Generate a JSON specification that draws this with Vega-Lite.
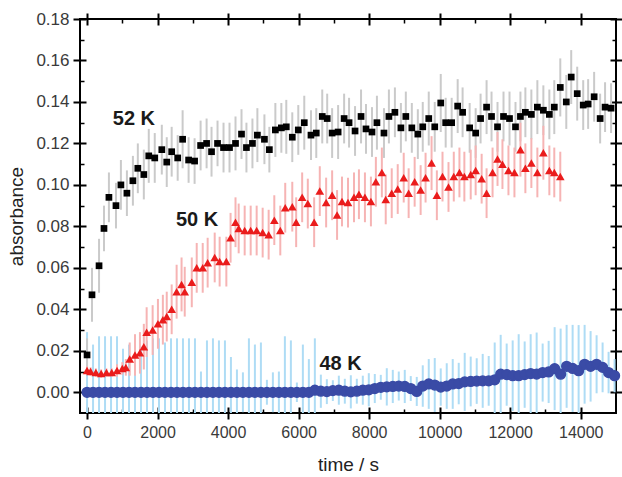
{
"$schema": "https://vega.github.io/schema/vega-lite/v6.json",
"width": 536, "height": 394,
"autosize": "none",
"padding": {"left": 80, "top": 19, "right": 6, "bottom": 64},
"background": "white",
"config": {"view": {"stroke": "#000", "strokeWidth": 2}, "font": "Liberation Sans", "axis": {"domain": false, "grid": false, "labelFont": "Liberation Sans", "titleFont": "Liberation Sans"}},
"datasets": {
"k52": [{"t":0,"y":0.018,"e":0.008},{"t":140,"y":0.047,"e":0.013},{"t":340,"y":0.061,"e":0.013},{"t":480,"y":0.079,"e":0.011},{"t":620,"y":0.094,"e":0.012},{"t":820,"y":0.090,"e":0.011},{"t":960,"y":0.100,"e":0.012},{"t":1130,"y":0.096,"e":0.011},{"t":1300,"y":0.102,"e":0.012},{"t":1440,"y":0.108,"e":0.012},{"t":1610,"y":0.105,"e":0.012},{"t":1750,"y":0.114,"e":0.013},{"t":1920,"y":0.113,"e":0.012},{"t":2120,"y":0.117,"e":0.012},{"t":2260,"y":0.111,"e":0.012},{"t":2400,"y":0.116,"e":0.012},{"t":2570,"y":0.113,"e":0.011},{"t":2710,"y":0.122,"e":0.014},{"t":2880,"y":0.112,"e":0.011},{"t":3050,"y":0.1115,"e":0.011},{"t":3220,"y":0.119,"e":0.012},{"t":3390,"y":0.120,"e":0.012},{"t":3530,"y":0.116,"e":0.012},{"t":3700,"y":0.120,"e":0.011},{"t":3870,"y":0.118,"e":0.012},{"t":4040,"y":0.118,"e":0.012},{"t":4210,"y":0.120,"e":0.013},{"t":4380,"y":0.1245,"e":0.012},{"t":4520,"y":0.118,"e":0.012},{"t":4690,"y":0.120,"e":0.012},{"t":4830,"y":0.124,"e":0.013},{"t":5030,"y":0.122,"e":0.012},{"t":5170,"y":0.117,"e":0.011},{"t":5340,"y":0.1265,"e":0.013},{"t":5510,"y":0.1275,"e":0.012},{"t":5650,"y":0.128,"e":0.013},{"t":5820,"y":0.123,"e":0.012},{"t":5990,"y":0.1265,"e":0.012},{"t":6160,"y":0.130,"e":0.013},{"t":6350,"y":0.124,"e":0.012},{"t":6500,"y":0.125,"e":0.012},{"t":6670,"y":0.133,"e":0.013},{"t":6810,"y":0.132,"e":0.012},{"t":6950,"y":0.125,"e":0.012},{"t":7120,"y":0.1255,"e":0.013},{"t":7290,"y":0.132,"e":0.012},{"t":7430,"y":0.130,"e":0.012},{"t":7600,"y":0.126,"e":0.012},{"t":7770,"y":0.133,"e":0.013},{"t":7910,"y":0.127,"e":0.012},{"t":8080,"y":0.1255,"e":0.012},{"t":8220,"y":0.130,"e":0.013},{"t":8420,"y":0.125,"e":0.012},{"t":8560,"y":0.133,"e":0.013},{"t":8730,"y":0.135,"e":0.012},{"t":8900,"y":0.1275,"e":0.012},{"t":9040,"y":0.133,"e":0.012},{"t":9210,"y":0.1275,"e":0.012},{"t":9380,"y":0.1245,"e":0.012},{"t":9520,"y":0.128,"e":0.012},{"t":9690,"y":0.132,"e":0.013},{"t":9860,"y":0.128,"e":0.012},{"t":10030,"y":0.1395,"e":0.014},{"t":10170,"y":0.130,"e":0.012},{"t":10340,"y":0.130,"e":0.012},{"t":10510,"y":0.138,"e":0.013},{"t":10650,"y":0.135,"e":0.012},{"t":10850,"y":0.1275,"e":0.012},{"t":11020,"y":0.125,"e":0.012},{"t":11160,"y":0.132,"e":0.012},{"t":11330,"y":0.1375,"e":0.013},{"t":11470,"y":0.133,"e":0.012},{"t":11640,"y":0.128,"e":0.012},{"t":11810,"y":0.133,"e":0.012},{"t":11980,"y":0.132,"e":0.013},{"t":12150,"y":0.128,"e":0.012},{"t":12290,"y":0.133,"e":0.012},{"t":12430,"y":0.135,"e":0.012},{"t":12600,"y":0.134,"e":0.012},{"t":12770,"y":0.1375,"e":0.013},{"t":12940,"y":0.136,"e":0.012},{"t":13110,"y":0.134,"e":0.012},{"t":13250,"y":0.1375,"e":0.013},{"t":13420,"y":0.147,"e":0.014},{"t":13590,"y":0.140,"e":0.013},{"t":13730,"y":0.152,"e":0.013},{"t":13900,"y":0.144,"e":0.013},{"t":14070,"y":0.1385,"e":0.012},{"t":14210,"y":0.139,"e":0.012},{"t":14380,"y":0.1425,"e":0.012},{"t":14550,"y":0.132,"e":0.012},{"t":14690,"y":0.1375,"e":0.012},{"t":14860,"y":0.137,"e":0.012}],
"k50": [{"t":0,"y":0.0105,"e":0.002},{"t":100,"y":0.0100,"e":0.002},{"t":250,"y":0.0095,"e":0.002},{"t":400,"y":0.0090,"e":0.002},{"t":550,"y":0.0095,"e":0.002},{"t":700,"y":0.0095,"e":0.002},{"t":850,"y":0.0105,"e":0.003},{"t":1000,"y":0.0115,"e":0.003},{"t":1100,"y":0.012,"e":0.004},{"t":1210,"y":0.016,"e":0.008},{"t":1360,"y":0.018,"e":0.010},{"t":1500,"y":0.019,"e":0.010},{"t":1610,"y":0.022,"e":0.011},{"t":1690,"y":0.029,"e":0.012},{"t":1860,"y":0.030,"e":0.012},{"t":2010,"y":0.033,"e":0.012},{"t":2150,"y":0.035,"e":0.012},{"t":2260,"y":0.0365,"e":0.012},{"t":2400,"y":0.040,"e":0.012},{"t":2540,"y":0.0485,"e":0.013},{"t":2680,"y":0.052,"e":0.013},{"t":2770,"y":0.0485,"e":0.012},{"t":2970,"y":0.053,"e":0.012},{"t":3110,"y":0.060,"e":0.012},{"t":3280,"y":0.060,"e":0.012},{"t":3420,"y":0.0625,"e":0.012},{"t":3620,"y":0.065,"e":0.012},{"t":3760,"y":0.063,"e":0.012},{"t":3950,"y":0.063,"e":0.012},{"t":4070,"y":0.0745,"e":0.012},{"t":4210,"y":0.082,"e":0.012},{"t":4300,"y":0.079,"e":0.012},{"t":4470,"y":0.078,"e":0.012},{"t":4640,"y":0.078,"e":0.012},{"t":4810,"y":0.078,"e":0.012},{"t":4980,"y":0.077,"e":0.012},{"t":5150,"y":0.076,"e":0.012},{"t":5310,"y":0.083,"e":0.012},{"t":5480,"y":0.078,"e":0.012},{"t":5620,"y":0.089,"e":0.012},{"t":5820,"y":0.0895,"e":0.012},{"t":5930,"y":0.082,"e":0.012},{"t":6100,"y":0.094,"e":0.012},{"t":6260,"y":0.091,"e":0.012},{"t":6440,"y":0.082,"e":0.012},{"t":6600,"y":0.097,"e":0.012},{"t":6780,"y":0.0915,"e":0.012},{"t":6950,"y":0.095,"e":0.012},{"t":7090,"y":0.0855,"e":0.012},{"t":7230,"y":0.092,"e":0.012},{"t":7400,"y":0.0915,"e":0.012},{"t":7570,"y":0.094,"e":0.012},{"t":7710,"y":0.0955,"e":0.012},{"t":7880,"y":0.094,"e":0.012},{"t":8050,"y":0.092,"e":0.012},{"t":8190,"y":0.1015,"e":0.012},{"t":8360,"y":0.106,"e":0.012},{"t":8470,"y":0.093,"e":0.012},{"t":8640,"y":0.096,"e":0.012},{"t":8810,"y":0.098,"e":0.012},{"t":8980,"y":0.1035,"e":0.012},{"t":9120,"y":0.096,"e":0.012},{"t":9290,"y":0.1015,"e":0.012},{"t":9460,"y":0.0975,"e":0.012},{"t":9600,"y":0.1035,"e":0.012},{"t":9770,"y":0.1105,"e":0.013},{"t":9920,"y":0.095,"e":0.012},{"t":10080,"y":0.104,"e":0.012},{"t":10250,"y":0.099,"e":0.012},{"t":10400,"y":0.104,"e":0.012},{"t":10560,"y":0.106,"e":0.012},{"t":10700,"y":0.104,"e":0.012},{"t":10880,"y":0.105,"e":0.012},{"t":11020,"y":0.107,"e":0.012},{"t":11190,"y":0.103,"e":0.012},{"t":11330,"y":0.096,"e":0.012},{"t":11500,"y":0.106,"e":0.012},{"t":11640,"y":0.1125,"e":0.013},{"t":11780,"y":0.110,"e":0.012},{"t":11950,"y":0.107,"e":0.012},{"t":12120,"y":0.106,"e":0.012},{"t":12290,"y":0.117,"e":0.013},{"t":12430,"y":0.108,"e":0.012},{"t":12600,"y":0.1105,"e":0.012},{"t":12770,"y":0.106,"e":0.012},{"t":12940,"y":0.1155,"e":0.013},{"t":13110,"y":0.107,"e":0.012},{"t":13250,"y":0.106,"e":0.012},{"t":13420,"y":0.104,"e":0.012}],
"k48": [{"t":0,"y":0,"e":0.029},{"t":170,"y":0,"e":0.023},{"t":340,"y":0,"e":0.027},{"t":510,"y":0,"e":0.027},{"t":680,"y":0,"e":0.027},{"t":850,"y":0,"e":0.027},{"t":1020,"y":0,"e":0.021},{"t":1190,"y":0,"e":0.023},{"t":1360,"y":0,"e":0.0215},{"t":1530,"y":0,"e":0.022},{"t":1700,"y":0,"e":0.025},{"t":1870,"y":0,"e":0.026},{"t":2040,"y":0,"e":0.026},{"t":2210,"y":0,"e":0.024},{"t":2380,"y":0,"e":0.026},{"t":2550,"y":0,"e":0.026},{"t":2720,"y":0,"e":0.026},{"t":2890,"y":0,"e":0.026},{"t":3060,"y":0,"e":0.026},{"t":3230,"y":0,"e":0.01},{"t":3400,"y":0,"e":0.025},{"t":3570,"y":0,"e":0.026},{"t":3740,"y":0,"e":0.025},{"t":3910,"y":0,"e":0.025},{"t":4080,"y":0,"e":0.017},{"t":4250,"y":0,"e":0.011},{"t":4420,"y":0,"e":0.0096},{"t":4590,"y":0,"e":0.026},{"t":4760,"y":0,"e":0.023},{"t":4930,"y":0,"e":0.024},{"t":5100,"y":0,"e":0.006},{"t":5270,"y":0,"e":0.0096},{"t":5440,"y":0,"e":0.010},{"t":5610,"y":0,"e":0.027},{"t":5780,"y":0,"e":0.025},{"t":5950,"y":0,"e":0.0047},{"t":6120,"y":0,"e":0.023},{"t":6290,"y":0,"e":0.016},{"t":6460,"y":0.001,"e":0.025},{"t":6630,"y":0.0005,"e":0.008},{"t":6800,"y":0.0003,"e":0.006},{"t":6970,"y":0.0008,"e":0.005},{"t":7140,"y":0.001,"e":0.007},{"t":7310,"y":0.0005,"e":0.006},{"t":7480,"y":0.0002,"e":0.008},{"t":7650,"y":0.0005,"e":0.006},{"t":7820,"y":0.001,"e":0.007},{"t":7990,"y":0.0012,"e":0.008},{"t":8160,"y":0.0018,"e":0.007},{"t":8330,"y":0.0024,"e":0.006},{"t":8500,"y":0.0026,"e":0.009},{"t":8670,"y":0.0028,"e":0.008},{"t":8840,"y":0.003,"e":0.007},{"t":9010,"y":0.0028,"e":0.008},{"t":9180,"y":0.0018,"e":0.006},{"t":9350,"y":0.0004,"e":0.007},{"t":9520,"y":0.003,"e":0.01},{"t":9690,"y":0.004,"e":0.012},{"t":9860,"y":0.0035,"e":0.013},{"t":10030,"y":0.0025,"e":0.009},{"t":10200,"y":0.003,"e":0.011},{"t":10370,"y":0.004,"e":0.012},{"t":10540,"y":0.0042,"e":0.01},{"t":10710,"y":0.005,"e":0.014},{"t":10880,"y":0.0052,"e":0.012},{"t":11050,"y":0.0054,"e":0.011},{"t":11220,"y":0.0055,"e":0.013},{"t":11390,"y":0.0055,"e":0.012},{"t":11560,"y":0.006,"e":0.018},{"t":11730,"y":0.0087,"e":0.019},{"t":11900,"y":0.0085,"e":0.015},{"t":12070,"y":0.008,"e":0.017},{"t":12240,"y":0.008,"e":0.02},{"t":12410,"y":0.0085,"e":0.016},{"t":12580,"y":0.009,"e":0.019},{"t":12750,"y":0.0088,"e":0.02},{"t":12920,"y":0.0095,"e":0.014},{"t":13090,"y":0.0098,"e":0.015},{"t":13260,"y":0.0114,"e":0.02},{"t":13430,"y":0.0087,"e":0.022},{"t":13600,"y":0.0125,"e":0.02},{"t":13770,"y":0.0115,"e":0.021},{"t":13940,"y":0.0104,"e":0.022},{"t":14110,"y":0.0135,"e":0.019},{"t":14280,"y":0.0125,"e":0.017},{"t":14450,"y":0.0135,"e":0.014},{"t":14620,"y":0.012,"e":0.012},{"t":14790,"y":0.0095,"e":0.01},{"t":14960,"y":0.008,"e":0.008}],
"labels": [{"t":1328,"y":0.1316,"label":"52 K"},{"t":3121,"y":0.0832,"label":"50 K"},{"t":7189,"y":0.0137,"label":"48 K"}]
},
"resolve": {"axis": {"x": "independent", "y": "independent"}},
"layer": [
{"data": {"name": "k48"}, "mark": {"type": "errorbar", "color": "#aedcf5", "thickness": 2, "clip": true},
 "encoding": {"x": {"field": "t", "type": "quantitative", "scale": {"domain": [-200, 15000], "nice": false, "zero": false}, "axis": null},
  "y": {"field": "y", "type": "quantitative", "scale": {"domain": [-0.01, 0.18], "nice": false, "zero": false}, "axis": null},
  "yError": {"field": "e"}}},
{"data": {"name": "k52"}, "mark": {"type": "errorbar", "color": "#cacaca", "thickness": 2, "clip": true},
 "encoding": {"x": {"field": "t", "type": "quantitative", "scale": {"domain": [-200, 15000], "nice": false, "zero": false}, "axis": null},
  "y": {"field": "y", "type": "quantitative", "scale": {"domain": [-0.01, 0.18], "nice": false, "zero": false}, "axis": null},
  "yError": {"field": "e"}}},
{"data": {"name": "k50"}, "mark": {"type": "errorbar", "color": "#f6b4b4", "thickness": 2, "clip": true},
 "encoding": {"x": {"field": "t", "type": "quantitative", "scale": {"domain": [-200, 15000], "nice": false, "zero": false}, "axis": null},
  "y": {"field": "y", "type": "quantitative", "scale": {"domain": [-0.01, 0.18], "nice": false, "zero": false}, "axis": null},
  "yError": {"field": "e"}}},
{"data": {"name": "k52"}, "mark": {"type": "point", "shape": "square", "filled": true, "color": "#000", "size": 45, "opacity": 1},
 "encoding": {"x": {"field": "t", "type": "quantitative", "scale": {"domain": [-200, 15000], "nice": false, "zero": false},
   "axis": {"orient": "bottom", "values": [0,2000,4000,6000,8000,10000,12000,14000], "format": "d", "tickSize": 6, "tickWidth": 2, "tickColor": "#000", "labelFontSize": 16, "labelColor": "#3a3a3a", "labelPadding": 5, "title": "time / s", "titleFontSize": 19, "titleFontWeight": "normal", "titleColor": "#222", "titlePadding": 15, "grid": true, "gridColor": "#000", "gridWidth": 2, "gridOpacity": 1, "gridDash": [6, 382]}},
  "y": {"field": "y", "type": "quantitative", "scale": {"domain": [-0.01, 0.18], "nice": false, "zero": false},
   "axis": {"orient": "left", "values": [0,0.02,0.04,0.06,0.08,0.1,0.12,0.14,0.16,0.18], "format": ".2f", "tickSize": 7, "tickWidth": 2, "tickColor": "#000", "labelFontSize": 17, "labelColor": "#3a3a3a", "labelPadding": 4, "title": "absorbance", "titleFontSize": 19, "titleFontWeight": "normal", "titleColor": "#222", "titlePadding": 9, "grid": true, "gridColor": "#000", "gridWidth": 2, "gridOpacity": 1, "gridDash": [6, 524]}}}},
{"data": {"name": "k50"}, "mark": {"type": "point", "shape": "triangle-up", "filled": true, "color": "#ea1c1c", "size": 75, "opacity": 1},
 "encoding": {"x": {"field": "t", "type": "quantitative", "scale": {"domain": [-200, 15000], "nice": false, "zero": false},
   "axis": {"orient": "top", "values": [0,2000,4000,6000,8000,10000,12000,14000], "labels": false, "tickSize": 6, "tickWidth": 2, "tickColor": "#000", "title": null}},
  "y": {"field": "y", "type": "quantitative", "scale": {"domain": [-0.01, 0.18], "nice": false, "zero": false},
   "axis": {"orient": "right", "values": [0,0.02,0.04,0.06,0.08,0.1,0.12,0.14,0.16,0.18], "labels": false, "tickSize": 6, "tickWidth": 2, "tickColor": "#000", "title": null}}}},
{"data": {"name": "k48"}, "mark": {"type": "point", "shape": "circle", "filled": true, "color": "#3a4ba6", "size": 95, "opacity": 1, "stroke": "#3a4ba6", "strokeWidth": 1.5},
 "encoding": {"x": {"field": "t", "type": "quantitative", "scale": {"domain": [-200, 15000], "nice": false, "zero": false},
   "axis": {"orient": "bottom", "values": [1000,3000,5000,7000,9000,11000,13000], "labels": false, "ticks": false, "title": null, "grid": true, "gridColor": "#000", "gridWidth": 1.5, "gridOpacity": 1, "gridDash": [4, 386]}},
  "y": {"field": "y", "type": "quantitative", "scale": {"domain": [-0.01, 0.18], "nice": false, "zero": false},
   "axis": {"orient": "left", "values": [0.01,0.03,0.05,0.07,0.09,0.11,0.13,0.15,0.17], "labels": false, "ticks": false, "title": null, "grid": true, "gridColor": "#000", "gridWidth": 1.5, "gridOpacity": 1, "gridDash": [4, 528]}}}},
{"data": {"name": "labels"}, "mark": {"type": "text", "fontSize": 20, "fontWeight": "bold", "color": "#1a1a1a", "align": "center", "baseline": "middle"},
 "encoding": {"x": {"field": "t", "type": "quantitative", "scale": {"domain": [-200, 15000], "nice": false, "zero": false}, "axis": null},
  "y": {"field": "y", "type": "quantitative", "scale": {"domain": [-0.01, 0.18], "nice": false, "zero": false}, "axis": null},
  "text": {"field": "label"}}}
]
}
